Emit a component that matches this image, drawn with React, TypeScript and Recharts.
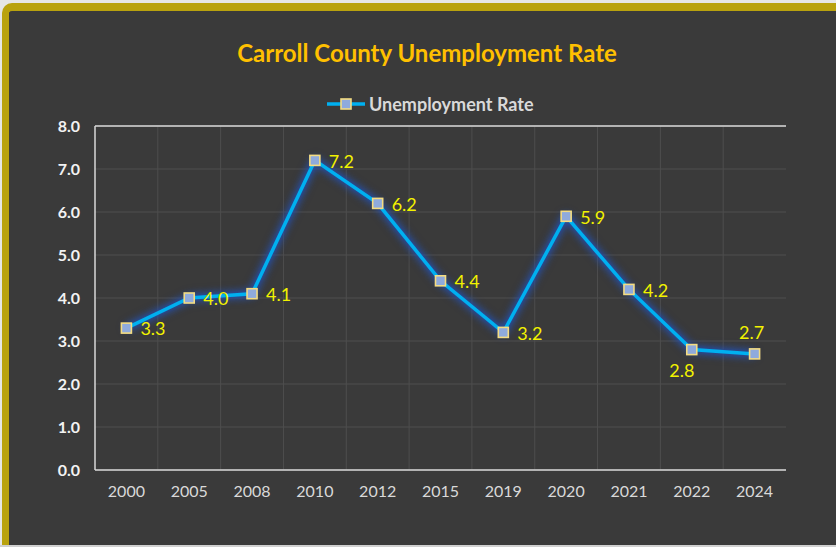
import React from "react";
import { LineChart, Line, XAxis, YAxis, CartesianGrid, LabelList, ReferenceLine } from "recharts";

const years = ["2000", "2005", "2008", "2010", "2012", "2015", "2019", "2020", "2021", "2022", "2024"];
const rates = [3.3, 4.0, 4.1, 7.2, 6.2, 4.4, 3.2, 5.9, 4.2, 2.8, 2.7];
const yTicks = [0, 1, 2, 3, 4, 5, 6, 7, 8];

// where each value label sits relative to its point
const labelSide: Record<string, "right" | "below" | "above"> = {
  "2022": "below",
  "2024": "above",
};

const GOLD = "#B9A20E";
const BG = "#3A3A3A";
const LINE = "#00B0F0";
const FONT = "Lato, 'DejaVu Sans', sans-serif";

const data = years.map((y, i) => ({ year: y, rate: rates[i] }));

const Marker = (props: any) => {
  const { cx, cy, index } = props;
  if (cx == null || cy == null) return null;
  return (
    <rect key={`m-${index}`} x={cx - 5} y={cy - 5} width={10} height={10} fill="#8FAADC" stroke="#F4DC82" strokeWidth={1.6} />
  );
};

const ValueLabel = (props: any) => {
  const { x, y, value, index } = props;
  const side = labelSide[years[index]] ?? "right";
  let tx = x + 14;
  let ty = y + 1;
  let anchor: "start" | "middle" = "start";
  if (side === "below") {
    tx = x - 10;
    ty = y + 21;
    anchor = "middle";
  } else if (side === "above") {
    tx = x - 3;
    ty = y - 21;
    anchor = "middle";
  }
  return (
    <text x={tx} y={ty} dy="0.35em" textAnchor={anchor} fill="#F2F200" fontSize={18} fontFamily={FONT}>
      {Number(value).toFixed(1)}
    </text>
  );
};

export default function App() {
  return (
    <div style={{ position: "absolute", left: 0, top: 0, width: 836, height: 547, background: "#E6E6E6", fontFamily: FONT, overflow: "hidden" }}>
      <style>{`.glow .recharts-line-curve, .glow .recharts-line-dots { filter: drop-shadow(0 0 4px #2B5FD0) drop-shadow(0 0 2px #1D4396); }`}</style>
      <div
        style={{
          position: "absolute",
          left: 2,
          top: 3,
          width: 834,
          height: 542,
          boxSizing: "border-box",
          borderLeft: `7px solid ${GOLD}`,
          borderTop: `8px solid ${GOLD}`,
          borderTopLeftRadius: 10,
          background: BG,
        }}
      />
      <div style={{ position: "absolute", left: 0, top: 38, width: 854, textAlign: "center", color: "#FFC000", fontWeight: 700, fontSize: 24 }}>
        Carroll County Unemployment Rate
      </div>
      <div style={{ position: "absolute", left: 326, top: 93, display: "flex", alignItems: "center", color: "#D9D9D9", fontSize: 18, fontWeight: 700 }}>
        <svg width={40} height={22} style={{ marginRight: 3 }}>
          <line x1={1} y1={11} x2={39} y2={11} stroke={LINE} strokeWidth={3.5} />
          <rect x={15} y={6} width={10} height={10} fill="#8FAADC" stroke="#F4DC82" strokeWidth={1.6} />
        </svg>
        <span>Unemployment Rate</span>
      </div>
      <div style={{ position: "absolute", left: 0, top: 0 }}>
        <LineChart width={836} height={547} data={data} margin={{ top: 126, right: 50, bottom: 47, left: 0 }}>
          <CartesianGrid
            stroke="#4E4E4E"
            strokeWidth={1}
            horizontalValues={yTicks}
            verticalCoordinatesGenerator={({ offset }: any) =>
              years.slice(1).map((_, i) => offset.left + ((i + 1) * offset.width) / years.length)
            }
          />
          <XAxis
            dataKey="year"
            scale="band"
            height={30}
            tickSize={0}
            tickMargin={16}
            axisLine={{ stroke: "#D9D9D9", strokeWidth: 1.5 }}
            tick={{ fill: "#D9D9D9", fontSize: 16, fontFamily: FONT }}
            interval={0}
          />
          <YAxis
            width={95}
            domain={[0, 8]}
            ticks={yTicks}
            tickSize={0}
            tickMargin={15}
            axisLine={{ stroke: "#D9D9D9", strokeWidth: 1.5 }}
            tickFormatter={(v: number) => v.toFixed(1)}
            tick={{ fill: "#F2F2F2", fontSize: 16, fontWeight: 700, fontFamily: FONT }}
          />
          <YAxis yAxisId="right" orientation="right" width={0} domain={[0, 8]} tick={false} tickLine={false} axisLine={{ stroke: "#D9D9D9", strokeWidth: 1.5 }} />
          <ReferenceLine y={8} stroke="#D9D9D9" strokeWidth={1.5} />
          <Line
            className="glow"
            dataKey="rate"
            type="linear"
            stroke={LINE}
            strokeWidth={3.5}
            dot={Marker}
            activeDot={false}
            isAnimationActive={false}
          >
            <LabelList dataKey="rate" content={ValueLabel} />
          </Line>
        </LineChart>
      </div>
      <div style={{ position: "absolute", left: 0, top: 545, width: 836, height: 2, background: "#D0D0D0" }} />
    </div>
  );
}
